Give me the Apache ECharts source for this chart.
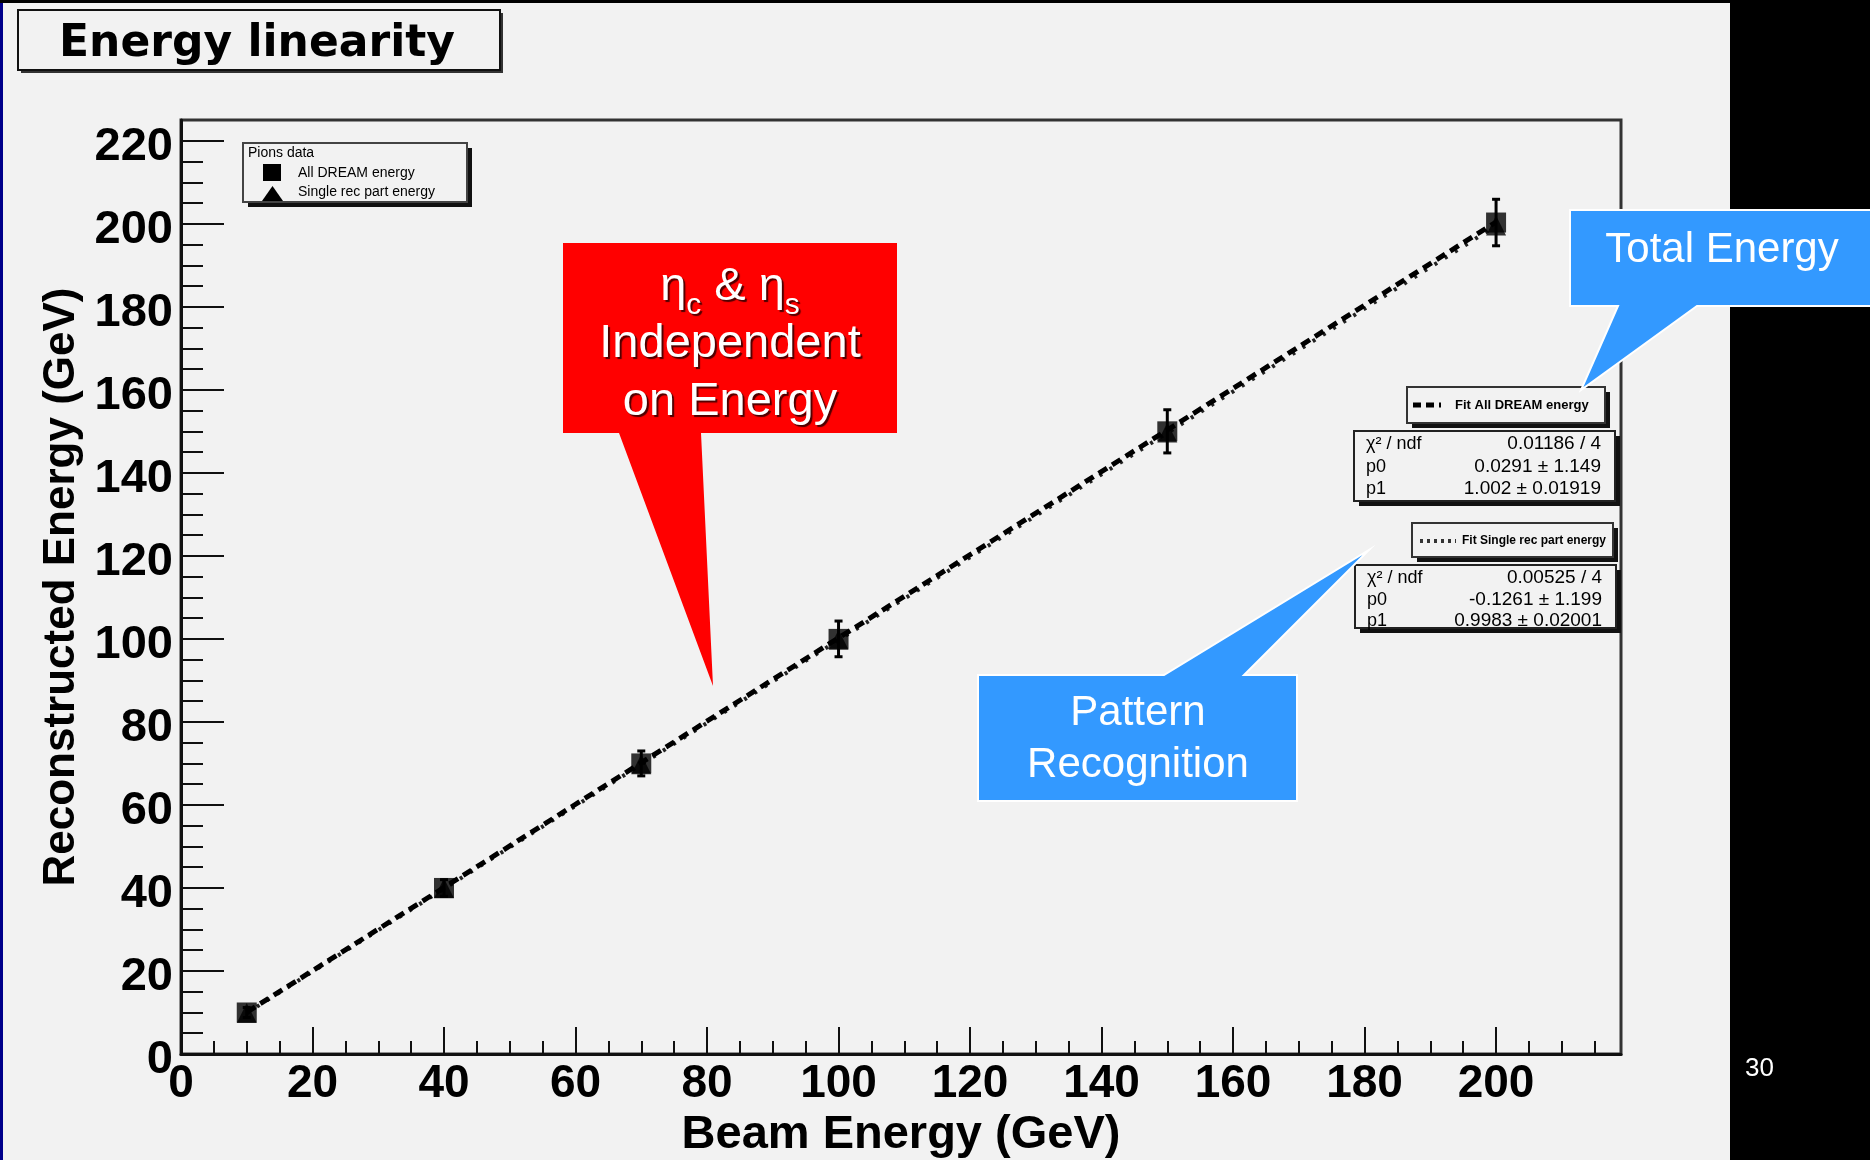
<!DOCTYPE html>
<html><head><meta charset="utf-8">
<script src="https://cdn.jsdelivr.net/npm/echarts@6/dist/echarts.min.js"></script>
<style>html,body{margin:0;padding:0;background:#000;overflow:hidden}#c{width:1870px;height:1160px}</style>
</head><body><div id="c"></div>
<script>
// ---- data ----
const beamEnergy = [10, 40, 70, 100, 150, 200];
const allDreamEnergy = [10, 40, 70, 100, 150, 200.3];
const allDreamError = [1.2, 2, 3, 4.3, 5.2, 5.6];
const singleRecEnergy = [9.9, 39.9, 69.8, 99.8, 149.7, 199.6];
const fitAllX = [10, 200];
const fitAllY = [10.05, 200.43];
const fitSingleX = [10, 200];
const fitSingleY = [9.86, 199.53];
const xMajorTicks = [0, 20, 40, 60, 80, 100, 120, 140, 160, 180, 200];
const xMinorTicks = [5,10,15,25,30,35,45,50,55,65,70,75,85,90,95,105,110,115,125,130,135,145,150,155,165,170,175,185,190,195,205,210,215];
const yMajorTicks = [0, 20, 40, 60, 80, 100, 120, 140, 160, 180, 200, 220];
const yMinorTicks = [5,10,15,25,30,35,45,50,55,65,70,75,85,90,95,105,110,115,125,130,135,145,150,155,165,170,175,185,190,195,205,210,215];
const fitAllStats = [["χ² / ndf", "0.01186 / 4"], ["p0", "0.0291 ± 1.149"], ["p1", "1.002 ± 0.01919"]];
const fitSingleStats = [["χ² / ndf", "0.00525 / 4"], ["p0", "-0.1261 ± 1.199"], ["p1", "0.9983 ± 0.02001"]];

const chart = echarts.init(document.getElementById('c'), null, {renderer: 'canvas'});
const FONT = 'Liberation Sans, Arial, sans-serif';
const black = '#000';

const pts = beamEnergy.map((x, i) => [x, allDreamEnergy[i]]);
const pts2 = beamEnergy.map((x, i) => [x, singleRecEnergy[i]]);
const errs = beamEnergy.map((x, i) => [x, allDreamEnergy[i], allDreamError[i]]);

function statBox(x, y, w, h, rows, rowYs) {
  const els = [
    {type: 'rect', shape: {x: x + 5, y: y + 5, width: w, height: h}, style: {fill: '#111'}, z: 50},
    {type: 'rect', shape: {x: x, y: y, width: w, height: h}, style: {fill: '#f2f2f2', stroke: '#222', lineWidth: 2}, z: 51}
  ];
  rows.forEach((r, i) => {
    els.push({type: 'text', x: x + 12, y: rowYs[i], style: {text: r[0], font: '18px ' + FONT, fill: black, textVerticalAlign: 'middle'}, z: 52});
    els.push({type: 'text', x: x + w - 14, y: rowYs[i], style: {text: r[1], font: '19px ' + FONT, fill: black, textAlign: 'right', textVerticalAlign: 'middle'}, z: 52});
  });
  return els;
}

const shadowStyle = {textShadowColor: 'rgba(0,0,0,0.7)', textShadowOffsetX: 2, textShadowOffsetY: 2, textShadowBlur: 1};

const graphics = [
  // page frame pieces
  {type: 'rect', shape: {x: 1730, y: 0, width: 140, height: 1160}, style: {fill: '#000'}, z: 1},
  {type: 'rect', shape: {x: 0, y: 0, width: 1870, height: 3}, style: {fill: '#000'}, z: 1},
  {type: 'rect', shape: {x: 0, y: 3, width: 3, height: 1157}, style: {fill: '#00008b'}, z: 1},
  {type: 'text', x: 1745, y: 1069, style: {text: '30', font: '26px ' + FONT, fill: '#fff', textVerticalAlign: 'middle'}, z: 5},
  // title box
  {type: 'rect', shape: {x: 21, y: 13, width: 482, height: 60}, style: {fill: '#333'}, z: 10},
  {type: 'rect', shape: {x: 18, y: 10, width: 482, height: 60}, style: {fill: '#f2f2f2', stroke: '#111', lineWidth: 2}, z: 11},
  {type: 'text', x: 257, y: 45, style: {text: 'Energy linearity', font: 'bold 44px DejaVu Sans, sans-serif', fill: black, textAlign: 'center', textVerticalAlign: 'middle'}, z: 12},
  // legend box
  {type: 'rect', shape: {x: 248, y: 148, width: 224, height: 59}, style: {fill: '#111'}, z: 50},
  {type: 'rect', shape: {x: 243, y: 143, width: 224, height: 59}, style: {fill: '#f2f2f2', stroke: '#444', lineWidth: 2}, z: 51},
  {type: 'text', x: 248, y: 153, style: {text: 'Pions data', font: '14px ' + FONT, fill: black, textVerticalAlign: 'middle'}, z: 52},
  {type: 'rect', shape: {x: 263, y: 164, width: 18, height: 17}, style: {fill: black}, z: 52},
  {type: 'polygon', shape: {points: [[262, 201], [283, 201], [272.5, 186]]}, style: {fill: black}, z: 52},
  {type: 'text', x: 298, y: 173, style: {text: 'All DREAM energy', font: '14px ' + FONT, fill: black, textVerticalAlign: 'middle'}, z: 52},
  {type: 'text', x: 298, y: 192, style: {text: 'Single rec part energy', font: '14px ' + FONT, fill: black, textVerticalAlign: 'middle'}, z: 52},
  // fit label 1
  {type: 'rect', shape: {x: 1412, y: 392, width: 198, height: 36}, style: {fill: '#111'}, z: 50},
  {type: 'rect', shape: {x: 1407, y: 387, width: 198, height: 36}, style: {fill: '#f2f2f2', stroke: '#333', lineWidth: 2}, z: 51},
  {type: 'line', shape: {x1: 1413, y1: 405, x2: 1441, y2: 405}, style: {stroke: black, lineWidth: 5, lineDash: [8, 5]}, z: 52},
  {type: 'text', x: 1455, y: 405, style: {text: 'Fit All DREAM energy', font: 'bold 13px ' + FONT, fill: black, textVerticalAlign: 'middle'}, z: 52},
  // fit label 2
  {type: 'rect', shape: {x: 1417, y: 528, width: 201, height: 34}, style: {fill: '#111'}, z: 50},
  {type: 'rect', shape: {x: 1412, y: 523, width: 201, height: 34}, style: {fill: '#f2f2f2', stroke: '#333', lineWidth: 2}, z: 51},
  {type: 'line', shape: {x1: 1420, y1: 541, x2: 1456, y2: 541}, style: {stroke: '#333', lineWidth: 4, lineDash: [3, 4]}, z: 52},
  {type: 'text', x: 1462, y: 541, style: {text: 'Fit Single rec part energy', font: 'bold 12px ' + FONT, fill: black, textVerticalAlign: 'middle'}, z: 52},
  ...statBox(1354, 431, 261, 70, fitAllStats, [444, 467, 489]),
  ...statBox(1355, 565, 261, 63, fitSingleStats, [578, 600, 621]),
  // red callout
  {type: 'polygon', shape: {points: [[563, 243], [897, 243], [897, 433], [701, 433], [713, 686], [619, 433], [563, 433]]}, style: {fill: '#ff0000'}, z: 60},
  {type: 'text', x: 730, y: 286, style: Object.assign({
    text: '{a|η}{s|c}{a| & η}{s|s}', fill: '#fff', textAlign: 'center', textVerticalAlign: 'middle',
    rich: {
      a: Object.assign({font: '47px ' + FONT, fill: '#fff', lineHeight: 50, verticalAlign: 'bottom'}, shadowStyle),
      s: Object.assign({font: '30px ' + FONT, fill: '#fff', lineHeight: 50, verticalAlign: 'bottom', padding: [0, 0, -10, 0]}, shadowStyle)
    }}, shadowStyle), z: 61},
  {type: 'text', x: 730, y: 344, style: Object.assign({text: 'Independent', font: '47px ' + FONT, fill: '#fff', textAlign: 'center', textVerticalAlign: 'middle'}, shadowStyle), z: 61},
  {type: 'text', x: 730, y: 402, style: Object.assign({text: 'on Energy', font: '47px ' + FONT, fill: '#fff', textAlign: 'center', textVerticalAlign: 'middle'}, shadowStyle), z: 61},
  // blue callout: Total Energy
  {type: 'polygon', shape: {points: [[1570, 210], [1880, 210], [1880, 306], [1697, 306], [1581, 390], [1618, 306], [1570, 306]]}, style: {fill: '#3399ff', stroke: '#fff', lineWidth: 2}, z: 60},
  {type: 'text', x: 1722, y: 250, style: {text: 'Total Energy', font: '42px ' + FONT, fill: '#fff', textAlign: 'center', textVerticalAlign: 'middle'}, z: 61},
  // blue callout: Pattern Recognition
  {type: 'polygon', shape: {points: [[978, 675], [1164, 675], [1369, 550], [1244, 675], [1297, 675], [1297, 801], [978, 801]]}, style: {fill: '#3399ff', stroke: '#fff', lineWidth: 2}, z: 60},
  {type: 'text', x: 1138, y: 713, style: {text: 'Pattern', font: '42px ' + FONT, fill: '#fff', textAlign: 'center', textVerticalAlign: 'middle'}, z: 61},
  {type: 'text', x: 1138, y: 765, style: {text: 'Recognition', font: '42px ' + FONT, fill: '#fff', textAlign: 'center', textVerticalAlign: 'middle'}, z: 61}
];

const option = {
  animation: false,
  backgroundColor: '#f2f2f2',
  grid: {left: 181, top: 120, right: 249, bottom: 106, containLabel: false, outerBoundsMode: 'none',
         show: true, borderColor: '#333', borderWidth: 3, backgroundColor: 'transparent'},
  xAxis: [
    {type: 'value', min: 0, max: 219, position: 'bottom',
     axisLine: {show: true, onZero: false, lineStyle: {color: '#111', width: 3}},
     axisTick: {show: true, inside: true, length: 27, customValues: xMajorTicks, lineStyle: {color: '#111', width: 2}},
     axisLabel: {customValues: xMajorTicks, fontFamily: FONT, fontWeight: 'bold', fontSize: 46, color: black, margin: 7},
     splitLine: {show: false},
     name: 'Beam Energy (GeV)', nameLocation: 'middle', nameGap: 50,
     nameTextStyle: {fontFamily: FONT, fontWeight: 'bold', fontSize: 47, color: black}},
    {type: 'value', min: 0, max: 219, position: 'bottom',
     axisLine: {show: false},
     axisTick: {show: true, inside: true, length: 13, customValues: xMinorTicks, lineStyle: {color: '#111', width: 2}},
     axisLabel: {show: false}, splitLine: {show: false}}
  ],
  yAxis: [
    {type: 'value', min: 0, max: 225, position: 'left',
     axisLine: {show: true, onZero: false, lineStyle: {color: '#111', width: 3}},
     axisTick: {show: true, inside: true, length: 43, customValues: yMajorTicks, lineStyle: {color: '#111', width: 2}},
     axisLabel: {customValues: yMajorTicks, fontFamily: FONT, fontWeight: 'bold', fontSize: 47, color: black, margin: 8,
                 verticalAlign: 'top', lineHeight: 12},
     splitLine: {show: false},
     name: 'Reconstructed Energy (GeV)', nameLocation: 'middle', nameGap: 92,
     nameTextStyle: {fontFamily: FONT, fontWeight: 'bold', fontSize: 44, color: black}},
    {type: 'value', min: 0, max: 225, position: 'left',
     axisLine: {show: false},
     axisTick: {show: true, inside: true, length: 22, customValues: yMinorTicks, lineStyle: {color: '#111', width: 2}},
     axisLabel: {show: false}, splitLine: {show: false}}
  ],
  series: [
    {name: 'Fit Single rec part energy', type: 'line', data: fitSingleX.map((x, i) => [x, fitSingleY[i]]),
     symbol: 'none', lineStyle: {color: '#222', width: 4, type: [3, 9]}, z: 3},
    {name: 'Fit All DREAM energy', type: 'line', data: fitAllX.map((x, i) => [x, fitAllY[i]]),
     symbol: 'none', lineStyle: {color: '#000', width: 5, type: [10, 6]}, z: 4},
    {name: 'Single rec part energy', type: 'scatter', data: pts2, symbol: 'triangle', symbolSize: 20,
     itemStyle: {color: '#000'}, z: 5},
    {name: 'errors', type: 'custom', data: errs, z: 6,
     renderItem: function (params, api) {
       const x = api.value(0), y = api.value(1), e = api.value(2);
       const t = api.coord([x, y + e]), b = api.coord([x, y - e]);
       const c = 4, st = {stroke: '#000', lineWidth: 3};
       return {type: 'group', children: [
         {type: 'line', shape: {x1: t[0], y1: t[1], x2: b[0], y2: b[1]}, style: st},
         {type: 'line', shape: {x1: t[0] - c, y1: t[1], x2: t[0] + c, y2: t[1]}, style: st},
         {type: 'line', shape: {x1: b[0] - c, y1: b[1], x2: b[0] + c, y2: b[1]}, style: st}
       ]};
     }},
    {name: 'All DREAM energy', type: 'scatter', data: pts, symbol: 'rect', symbolSize: 20,
     itemStyle: {color: '#000'}, z: 7}
  ],
  graphic: graphics
};
chart.setOption(option);
</script>
</body></html>
